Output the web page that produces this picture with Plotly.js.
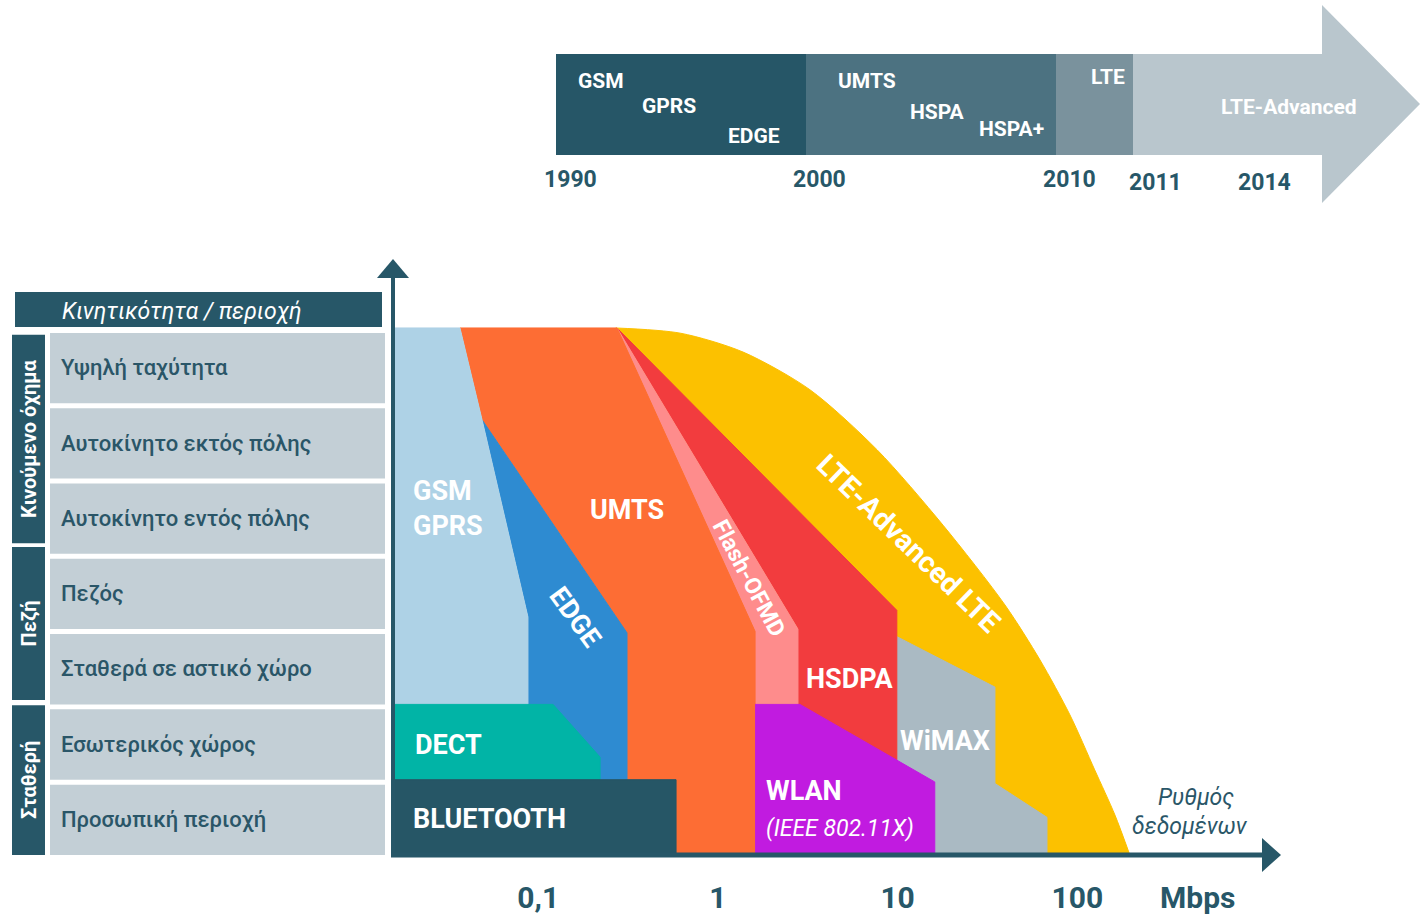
<!DOCTYPE html>
<html>
<head>
<meta charset="utf-8">
<script src="https://cdn.plot.ly/plotly-3.0.1.min.js"></script>
<style>
html,body{margin:0;padding:0;background:#ffffff;}
#chart{width:1420px;height:918px;}
</style>
</head>
<body>
<div id="chart"></div>
<script>
// ================= DATA =================
// Mobility rows (top to bottom) and their groups
const rowLabels = ['Υψηλή ταχύτητα','Αυτοκίνητο εκτός πόλης','Αυτοκίνητο εντός πόλης','Πεζός','Σταθερά σε αστικό χώρο','Εσωτερικός χώρος','Προσωπική περιοχή'];
const groupLabels = ['Κινούμενο όχημα','Πεζή','Σταθερή'];
const groupRowCounts = [3,2,2];
const tableHeader = 'Κινητικότητα / περιοχή';

// Data-rate axis (Mbps, log scale)
const rateTickVals = [0.1, 1, 10, 100];
const rateTickText = ['0,1','1','10','100'];
const rateUnit = 'Mbps';
const rateTitle = ['Ρυθμός','δεδομένων'];

// Timeline
const eraTechs = [['GSM','GPRS','EDGE'],['UMTS','HSPA','HSPA+'],['LTE'],['LTE-Advanced']];
const timelineYears = ['1990','2000','2010','2011','2014'];

// Technology coverage regions: data rate (Mbps) vs mobility row (0 = bottom, 7 = top)
const lteAdvRate = [0.27, 0.62, 1.38, 3.25, 7.7, 17.9, 39.6, 62, 91, 125, 162, 196];
const lteAdvRow  = [7, 6.93, 6.68, 6.18, 5.38, 4.38, 3.32, 2.59, 1.86, 1.13, 0.53, 0];

const wimaxRate = [9.9, 34.8, 34.8, 67.8, 67.8, 9.9];
const wimaxRow  = [2.9, 2.23, 0.95, 0.5, 0, 0];

const hsdpaRate = [0.2745, 9.9, 9.9, 2.79, 2.79];
const hsdpaRow  = [7, 3.25, 0, 0, 3.0];

const flashRate = [0.2745, 2.79, 2.79, 1.61, 1.61];
const flashRow  = [7, 3.0, 2, 2, 2.97];

const umtsRate = [0.0367, 0.2745, 1.61, 1.61, 0.312, 0.312, 0.0487];
const umtsRow  = [7, 7, 2.97, 0, 0, 2.95, 5.78];

const edgeRate = [0.0487, 0.312, 0.312, 0.0877, 0.0877];
const edgeRow  = [5.78, 2.95, 1, 1, 3.16];

const gsmRate = [0.0155, 0.0367, 0.0487, 0.0877, 0.0877, 0.0155];
const gsmRow  = [7, 7, 5.78, 3.16, 2, 2];

const wlanRate = [1.61, 2.86, 16.1, 16.1, 1.61];
const wlanRow  = [2, 2, 0.97, 0, 0];
const wlanStandard = '(IEEE 802.11X)';

const dectRate = [0.0155, 0.121, 0.221, 0.221, 0.0155];
const dectRow  = [2, 2, 1.3, 1, 1];

const btRate = [0.0155, 0.585, 0.585, 0.0155];
const btRow  = [1, 1, 0, 0];

const techNames = ['LTE-Advanced LTE','WiMAX','HSDPA','Flash-OFMD','UMTS','EDGE','GSM<br>GPRS','WLAN','DECT','BLUETOOTH'];

// ================= LAYOUT / STYLE =================
const W = 1420, H = 918;
const px = x => x / W;
const py = y => 1 - y / H;
const FONT = 'Roboto, "Liberation Sans", sans-serif';
const DARK = '#275768';
const TEXT_DARK = '#2A5668';

const techColors = ['#FCC100','#AABAC3','#F23C3E','#FE8C8C','#FD6D34','#2E8BD1','#AED2E6','#C11BE0','#01B4A6','#265666'];
const techLabelPos = [
  {x:908, y:543, angle:44, size:29},
  {x:945, y:741},
  {x:849, y:679},
  {x:749, y:578, angle:62, size:23},
  {x:627, y:510},
  {x:575, y:617, angle:54},
  {x:411, y:508, left:true},
  {x:764, y:791, left:true},
  {x:413, y:745, left:true},
  {x:411, y:819, left:true}
];

const series = [
  [lteAdvRate, lteAdvRow], [wimaxRate, wimaxRow], [hsdpaRate, hsdpaRow], [flashRate, flashRow],
  [umtsRate, umtsRow], [edgeRate, edgeRow], [gsmRate, gsmRow], [wlanRate, wlanRow],
  [dectRate, dectRow], [btRate, btRow]
];

const traces = series.map((s, i) => {
  if (i === 0) {
    return {type:'scatter', x:s[0], y:s[1], mode:'lines', fill:'tozeroy',
      fillcolor:techColors[i], line:{shape:'spline', smoothing:0.8, width:1, color:techColors[i]},
      hoverinfo:'skip', showlegend:false};
  }
  return {type:'scatter', x:s[0], y:s[1], mode:'lines', fill:'toself',
    fillcolor:techColors[i], line:{width:1, color:techColors[i]},
    hoverinfo:'skip', showlegend:false};
});

const shapes = [];
const annotations = [];

// ---- table ----
shapes.push({type:'rect', xref:'paper', yref:'paper', x0:px(15), x1:px(382), y0:py(327), y1:py(292),
  fillcolor:DARK, line:{width:0}, layer:'above'});
annotations.push({xref:'paper', yref:'paper', x:px(60), y:py(311), xanchor:'left', yanchor:'middle',
  text:tableHeader, showarrow:false, font:{family:FONT, size:23, color:'#ffffff', style:'italic'}});

const nRows = rowLabels.length;
const cellGap = 0.066;
rowLabels.forEach((lab, i) => {
  const rHigh = nRows - i, rLow = nRows - i - 1;
  shapes.push({type:'rect', xref:'paper', yref:'y', x0:px(50), x1:px(385), y0:rLow, y1:rHigh - cellGap,
    fillcolor:'#C3CFD6', line:{width:0}, layer:'above'});
  annotations.push({xref:'paper', yref:'y', x:px(59), y:(rLow + rHigh - cellGap)/2, xanchor:'left', yanchor:'middle',
    text:lab, showarrow:false, font:{family:FONT, size:22, color:TEXT_DARK, weight:500}});
});

const groupInset = [[0.09,0.14],[-0.09,0.06],[0.01,0]];
let rTop = nRows;
groupLabels.forEach((g, i) => {
  const rBot = rTop - groupRowCounts[i];
  const y1 = rTop - groupInset[i][0], y0 = rBot + groupInset[i][1];
  shapes.push({type:'rect', xref:'paper', yref:'y', x0:px(12), x1:px(45), y0:y0, y1:y1,
    fillcolor:DARK, line:{width:0}, layer:'above'});
  annotations.push({xref:'paper', yref:'y', x:px(29), y:(y0 + y1)/2, xanchor:'center', yanchor:'middle',
    text:g, textangle:-90, showarrow:false, font:{family:FONT, size:20, color:'#ffffff', weight:'bold'}});
  rTop = rBot;
});

// ---- axes (arrows) ----
shapes.push({type:'line', xref:'paper', yref:'paper', x0:px(393), x1:px(393), y0:py(857), y1:py(274),
  line:{color:DARK, width:4}, layer:'above'});
shapes.push({type:'path', xref:'paper', yref:'paper',
  path:`M ${px(377)},${py(278)} L ${px(393)},${py(259)} L ${px(409)},${py(278)} Z`,
  fillcolor:DARK, line:{width:0}, layer:'above'});
shapes.push({type:'line', xref:'paper', yref:'paper', x0:px(391), x1:px(1266), y0:py(855), y1:py(855),
  line:{color:DARK, width:5}, layer:'above'});
shapes.push({type:'path', xref:'paper', yref:'paper',
  path:`M ${px(1262)},${py(838)} L ${px(1281)},${py(855)} L ${px(1262)},${py(872)} Z`,
  fillcolor:DARK, line:{width:0}, layer:'above'});

// ---- tech labels in chart ----
techNames.forEach((t, i) => {
  const p = techLabelPos[i];
  annotations.push({xref:'paper', yref:'paper', x:px(p.x), y:py(p.y),
    xanchor:p.left ? 'left' : 'center', yanchor:'middle', align:'left',
    text:t, textangle:p.angle || 0, showarrow:false,
    font:{family:FONT, size:p.size || 27, color:'#ffffff', weight:'bold'}});
});
annotations.push({xref:'paper', yref:'paper', x:px(764), y:py(828), xanchor:'left', yanchor:'middle',
  text:wlanStandard, showarrow:false, font:{family:FONT, size:23, color:'#ffffff', style:'italic'}});

annotations.push({xref:'paper', yref:'paper', x:px(1197), y:py(897), xanchor:'center', yanchor:'middle',
  text:rateUnit, showarrow:false, font:{family:FONT, size:30, color:DARK, weight:'bold'}});
annotations.push({xref:'paper', yref:'paper', x:px(1196), y:py(797), xanchor:'center', yanchor:'middle',
  text:rateTitle[0], showarrow:false, font:{family:FONT, size:23, color:TEXT_DARK, style:'italic'}});
annotations.push({xref:'paper', yref:'paper', x:px(1190), y:py(826), xanchor:'center', yanchor:'middle',
  text:rateTitle[1], showarrow:false, font:{family:FONT, size:23, color:TEXT_DARK, style:'italic'}});

// ---- timeline ----
const eraEdges = [556, 806, 1056, 1133];
const eraColors = ['#265667','#4C7281','#7A929D','#B9C6CD'];
const barTop = 54, barBot = 155, arrowBase = 1322, arrowTip = 1420, arrowTop = 5, arrowBot = 203;
for (let i = 0; i < 3; i++) {
  shapes.push({type:'rect', xref:'paper', yref:'paper', x0:px(eraEdges[i]), x1:px(eraEdges[i+1]),
    y0:py(barBot), y1:py(barTop), fillcolor:eraColors[i], line:{width:0}});
}
shapes.push({type:'path', xref:'paper', yref:'paper',
  path:`M ${px(eraEdges[3])},${py(barTop)} L ${px(arrowBase)},${py(barTop)} L ${px(arrowBase)},${py(arrowTop)} L ${px(arrowTip)},${py(104)} L ${px(arrowBase)},${py(arrowBot)} L ${px(arrowBase)},${py(barBot)} L ${px(eraEdges[3])},${py(barBot)} Z`,
  fillcolor:eraColors[3], line:{width:0}});

const eraTechPos = [[[601,81],[669,106],[754,136]], [[867,81],[937,112],[1011,129]], [[1108,77]], [[1289,107]]];
eraTechs.forEach((techs, e) => {
  techs.forEach((t, k) => {
    const p = eraTechPos[e][k];
    annotations.push({xref:'paper', yref:'paper', x:px(p[0]), y:py(p[1]), xanchor:'center', yanchor:'middle',
      text:t, showarrow:false, font:{family:FONT, size:21, color:'#ffffff', weight:'bold'}});
  });
});
const yearPos = [[570,179],[819,179],[1069,180],[1155,182],[1264,182]];
timelineYears.forEach((yv, i) => {
  annotations.push({xref:'paper', yref:'paper', x:px(yearPos[i][0]), y:py(yearPos[i][1]), xanchor:'center', yanchor:'middle',
    text:yv, showarrow:false, font:{family:FONT, size:23, color:DARK, weight:'bold'}});
});

const layout = {
  width:W, height:H,
  margin:{l:0, r:0, t:0, b:0},
  paper_bgcolor:'#ffffff', plot_bgcolor:'rgba(0,0,0,0)',
  showlegend:false,
  xaxis:{type:'log', range:[-3.995, 3.907], domain:[0,1], anchor:'free', position:0.045,
    tickvals:rateTickVals, ticktext:rateTickText, ticks:'', showgrid:false, zeroline:false, showline:false,
    tickfont:{family:FONT, size:30, color:DARK, weight:'bold'}, fixedrange:true},
  yaxis:{range:[-0.837, 11.356], domain:[0,1], visible:false, fixedrange:true},
  shapes:shapes,
  annotations:annotations
};

Plotly.newPlot('chart', traces, layout, {staticPlot:true, displayModeBar:false});
</script>
</body>
</html>
